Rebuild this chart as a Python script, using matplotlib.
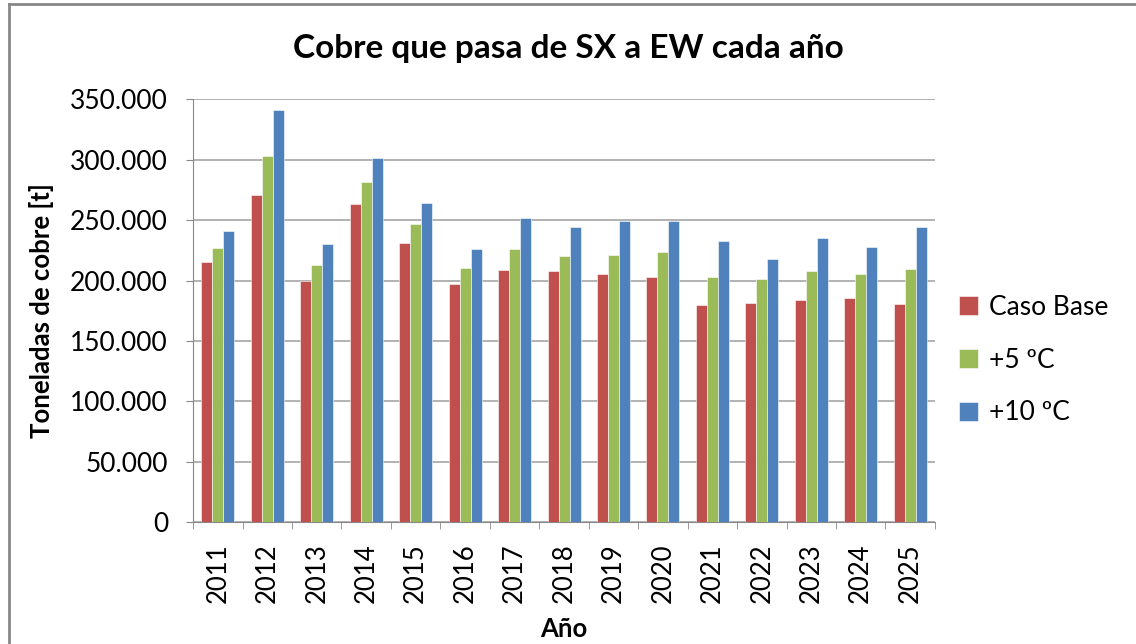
import numpy as np
import matplotlib.pyplot as plt
from matplotlib.lines import Line2D
from matplotlib.ticker import FuncFormatter, MultipleLocator

plt.rcParams['font.family'] = ['Lato', 'DejaVu Sans']

years = ['2011', '2012', '2013', '2014', '2015', '2016', '2017', '2018',
         '2019', '2020', '2021', '2022', '2023', '2024', '2025']
caso_base = [215000, 271000, 199500, 263500, 231000, 197500, 209000, 207500,
             205500, 203000, 179500, 181500, 183500, 185500, 180500]
mas_5 = [227000, 303000, 212500, 281500, 247000, 210500, 226000, 220500,
         221500, 223500, 202500, 201500, 207500, 205500, 209500]
mas_10 = [241000, 341000, 230000, 301000, 264000, 226000, 252000, 244000,
          249000, 249000, 233000, 218000, 235000, 228000, 244000]
series = ['Caso Base', '+5 ºC', '+10 ºC']
colors = ['#C0504D', '#9BBB59', '#4F81BD']

fig = plt.figure(figsize=(11.36, 6.44), dpi=100)
ax = fig.add_axes([0.170, 0.189, 0.653, 0.657])

x = np.arange(len(years))
w = 1 / 4.5
for i, (vals, name, c) in enumerate(zip([caso_base, mas_5, mas_10], series, colors)):
    ax.bar(x + (i - 1) * w, vals, w, color=c, label=name, zorder=3,
           edgecolor='white', linewidth=0.4)

ax.set_xlim(-0.5, len(years) - 0.5)
ax.set_ylim(0, 350000)
ax.yaxis.set_major_locator(MultipleLocator(50000))
ax.yaxis.set_major_formatter(FuncFormatter(lambda v, p: f'{int(v):,}'.replace(',', '.')))
ax.grid(axis='y', color='#A6A6A6', linewidth=1.2, zorder=0)

ax.set_xticks(x)
ax.set_xticklabels(years, rotation=90, fontsize=18.5)
ax.set_xticks(np.arange(-0.5, len(years)), minor=True)
ax.tick_params(axis='x', which='major', length=0, pad=15)
ax.tick_params(axis='x', which='minor', length=5, color='#888888')
ax.tick_params(axis='y', labelsize=19, length=5, color='#888888', pad=13)

for s in ['top', 'right']:
    ax.spines[s].set_visible(False)
for s in ['left', 'bottom']:
    ax.spines[s].set_color('#888888')

ax.set_ylabel('Toneladas de cobre [t]', fontsize=18.5, fontweight='bold', labelpad=12)
ax.set_xlabel('Año', fontsize=18.5, fontweight='bold', labelpad=10)
fig.text(0.5, 0.925, 'Cobre que pasa de SX a EW cada año', ha='center', va='center',
         fontsize=24, fontweight='bold')

ax.legend(loc='center left', bbox_to_anchor=(1.0, 0.383), frameon=False, fontsize=19,
          handlelength=0.75, handleheight=0.75, labelspacing=1.05, handletextpad=0.4)

# outer chart border (only left and top edges fall inside the picture)
fig.add_artist(Line2D([0.0075, 0.0075], [0.0, 0.994], transform=fig.transFigure,
                      color='#888888', linewidth=2))
fig.add_artist(Line2D([0.0075, 1.0], [0.994, 0.994], transform=fig.transFigure,
                      color='#888888', linewidth=2))

fig.savefig('out.png', dpi=100)
